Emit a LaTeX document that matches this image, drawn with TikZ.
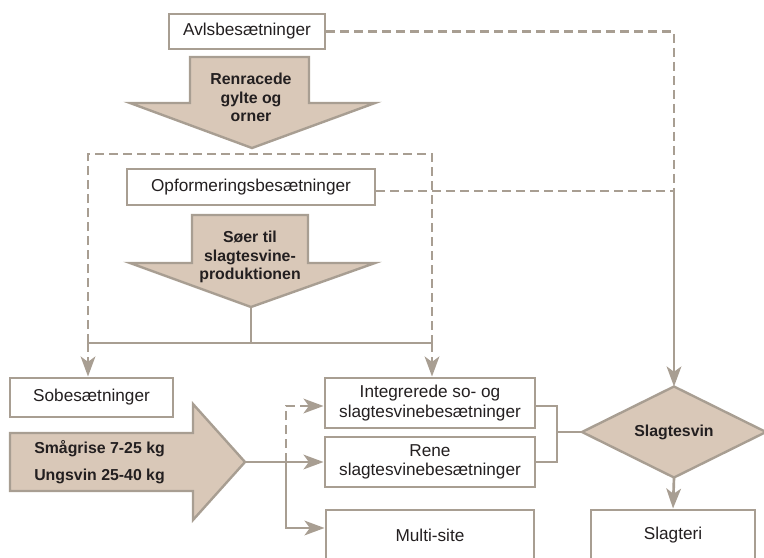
\documentclass[tikz,border=0pt]{standalone}
\usepackage{fontspec}
\setmainfont{Liberation Sans}
\usetikzlibrary{arrows.meta}
\definecolor{lc}{HTML}{A89E92}
\definecolor{af}{HTML}{D9C8B8}
\definecolor{tc}{HTML}{231F20}
\begin{document}
\begin{tikzpicture}[x=0.75pt,y=-0.75pt,
  box/.style={draw=lc, line width=2.2pt, fill=white, inner sep=0pt, text=tc,
    font=\fontsize{12.9}{14.6}\selectfont, align=center},
  bigshape/.style={draw=lc, line width=1.8pt, fill=af, line join=miter},
  btxt/.style={text=tc, font=\bfseries\fontsize{11.9}{13.8}\selectfont, align=center, inner sep=0pt},
  conn/.style={draw=lc, line width=2pt},
  dconn/.style={conn, dash pattern=on 6.5pt off 4pt},
  tip/.style={-{Stealth[length=15pt,width=11pt,inset=4pt]}},
]
\useasboundingbox (0,0) rectangle (764,557);
\clip (0,0) rectangle (764,557);

% boxes
\node[box, minimum width=117pt, minimum height=26.25pt] (avls) at (247,31.5) {Avlsbesætninger};
\node[box, minimum width=186pt, minimum height=27pt] (opf) at (251,187) {Opformeringsbesætninger};
\node[box, minimum width=122.25pt, minimum height=29.25pt] (sob) at (91.5,397.5) {Sobesætninger};
\node[box, minimum width=157.5pt, minimum height=37.5pt] (integ) at (430,403) {Integrerede so- og\\slagtesvinebesætninger};
\node[box, minimum width=157.5pt, minimum height=37.5pt] (rene) at (430,462) {Rene\\slagtesvinebesætninger};
\node[box, minimum width=156pt, minimum height=37.5pt] (multi) at (430,535) {Multi-site};
\node[box, minimum width=123pt, minimum height=37.5pt] (slagteri) at (673,535) {Slagteri};

% big arrow 1
\draw[bigshape] (190,57) -- (309,57) -- (309,103) -- (375,103) -- (252,148) -- (130,103) -- (190,103) -- cycle;
\node[btxt, anchor=north] (renr) at (251,73) {Renracede\\gylte og\\orner};

% big arrow 2
\draw[bigshape] (192,215) -- (308,215) -- (308,263) -- (375,263) -- (251,307) -- (130,263) -- (192,263) -- cycle;
\coordinate (a2tip) at (251,307);
\node[btxt, anchor=north] (soer) at (250,231) {Søer til\\slagtesvine-\\produktionen};

% big arrow 3
\draw[bigshape] (10,433) -- (193,433) -- (193,404) -- (245,462) -- (193,520) -- (193,491) -- (10,491) -- cycle;
\coordinate (a3tip) at (245,462);
\node[btxt, anchor=base west] (smaa) at (34,453) {Smågrise 7-25 kg};
\node[btxt, anchor=base west] (ungs) at (34,480) {Ungsvin 25-40 kg};

% diamond
\draw[bigshape] (582,432) coordinate (dW) -- (674,386.5) coordinate (dN) -- (766,432) -- (674,477.5) coordinate (dS) -- cycle;
\node[btxt] (diam) at (674,432) {Slagtesvin};

% enclosure
\coordinate (encL) at (88,343);
\coordinate (encR) at (432,343);
\draw[dconn] (encL) -- (88,154) -- (432,154) -- (encR);
\draw[dconn, tip] (encL) -- (encL |- sob.north);
\draw[dconn, tip] (encR) -- (encR |- integ.north);
\draw[conn] (a2tip) -- (a2tip |- encL);
\draw[conn] (encL) -- (encR);

% right dashed feeds
\coordinate (join) at (674,191);
\draw[dconn] (avls.east) -- (join |- avls.east) -- (join);
\draw[dconn] ([yshift=-3pt]opf.east) -- (join);
\draw[conn, tip] (join) -- (dN);

% piglet distribution
\coordinate (vtop) at (286,406);
\coordinate (vmid) at (286,462);
\coordinate (vbot) at (286,528);
\draw[conn, tip] (a3tip) -- (rene.west);
\draw[dconn, tip] (vmid) -- (vtop) -- (integ.west |- vtop);
\draw[conn, tip] (vmid) -- (vbot) -- (multi.west |- vbot);

% to slaughter pigs
\coordinate (rj) at (557,432);
\draw[conn] (integ.east |- vtop) -- (rj |- vtop) -- (rj |- rene.east) -- (rene.east);
\draw[conn] (rj) -- (dW);
\draw[conn, tip] (dS) -- (slagteri.north);
\end{tikzpicture}
\end{document}
